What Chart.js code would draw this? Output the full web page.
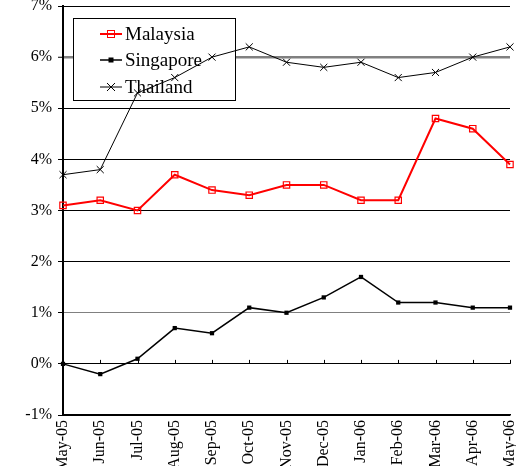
<!DOCTYPE html>
<html>
<head>
<meta charset="utf-8">
<script src="https://cdn.jsdelivr.net/npm/chart.js@4.4.0/dist/chart.umd.min.js"></script>
<style>
  html, body { margin: 0; padding: 0; background: #fff; }
  #wrap { width: 516px; height: 466px; }
</style>
</head>
<body>
<div id="wrap"><canvas id="chart" width="516" height="466"></canvas></div>
<script>
const months = ['May-05', 'Jun-05', 'Jul-05', 'Aug-05', 'Sep-05', 'Oct-05', 'Nov-05', 'Dec-05', 'Jan-06', 'Feb-06', 'Mar-06', 'Apr-06', 'May-06'];
const malaysia = [3.1, 3.2, 3.0, 3.7, 3.4, 3.3, 3.5, 3.5, 3.2, 3.2, 4.8, 4.6, 3.9];
const singapore = [0.0, -0.2, 0.1, 0.7, 0.6, 1.1, 1.0, 1.3, 1.7, 1.2, 1.2, 1.1, 1.1];
const thailand = [3.7, 3.8, 5.3, 5.6, 6.0, 6.2, 5.9, 5.8, 5.9, 5.6, 5.7, 6.0, 6.2];

const serif = '"Liberation Serif", "DejaVu Serif", serif';

function noPad(scale) {
  scale.paddingTop = 0;
  scale.paddingBottom = 0;
  scale.paddingLeft = 0;
  scale.paddingRight = 0;
}

// legend box inside the plot (lines run over it), plus small ticks on the 0% line
const extras = {
  id: 'extras',
  beforeDatasetsDraw(chart) {
    const c = chart.ctx;
    const x = chart.scales.x, y = chart.scales.y;
    const y0 = y.getPixelForValue(0);
    c.save();
    c.strokeStyle = '#000';
    c.lineWidth = 1;
    months.forEach((m, i) => {
      const px = Math.round(x.getPixelForValue(i)) + 0.5;
      c.beginPath(); c.moveTo(px, y0 - 4); c.lineTo(px, y0); c.stroke();
    });

    const bx = 73.5, by = 18.5, bw = 162, bh = 82;
    c.fillStyle = '#fff';
    c.fillRect(bx, by, bw, bh);
    c.strokeStyle = '#000';
    c.strokeRect(bx, by, bw, bh);
    const items = chart.data.datasets;
    const rows = [34, 60, 87];
    c.font = '19px ' + serif;
    c.textBaseline = 'middle';
    items.forEach((ds, i) => {
      const ly = rows[i];
      c.strokeStyle = ds.borderColor;
      c.lineWidth = ds.borderWidth;
      c.beginPath(); c.moveTo(100, ly); c.lineTo(122, ly); c.stroke();
      const mx = 111;
      if (i === 0) {
        c.lineWidth = 1;
        c.strokeRect(mx - 3.5, ly - 3.5, 7, 7);
      } else if (i === 1) {
        c.fillStyle = '#000';
        c.fillRect(mx - 2.5, ly - 2.5, 5, 5);
      } else {
        c.lineWidth = 1;
        c.beginPath();
        c.moveTo(mx - 4, ly - 4); c.lineTo(mx + 4, ly + 4);
        c.moveTo(mx + 4, ly - 4); c.lineTo(mx - 4, ly + 4);
        c.stroke();
      }
      c.fillStyle = '#000';
      c.fillText(ds.label, 125, ly + 1);
    });
    c.restore();
  }
};

new Chart(document.getElementById('chart'), {
  type: 'line',
  data: {
    labels: months,
    datasets: [
      {
        label: 'Malaysia',
        data: malaysia,
        borderColor: '#ff0000',
        backgroundColor: 'rgba(0,0,0,0)',
        borderWidth: 2,
        pointStyle: 'rect',
        pointRadius: 4.5,
        pointBorderWidth: 1.2,
        pointBorderColor: '#ff0000',
        pointBackgroundColor: 'rgba(0,0,0,0)',
        tension: 0
      },
      {
        label: 'Singapore',
        data: singapore,
        borderColor: '#000',
        backgroundColor: '#000',
        borderWidth: 1.5,
        pointStyle: 'rect',
        pointRadius: 3,
        pointBorderWidth: 0,
        pointBackgroundColor: '#000',
        tension: 0
      },
      {
        label: 'Thailand',
        data: thailand,
        borderColor: '#000',
        backgroundColor: '#000',
        borderWidth: 1,
        pointStyle: 'crossRot',
        pointRadius: 5,
        pointBorderWidth: 1,
        pointBorderColor: '#000',
        tension: 0
      }
    ]
  },
  options: {
    responsive: false,
    animation: false,
    layout: { padding: { top: 6, right: 6, left: 0, bottom: 0 } },
    plugins: {
      legend: { display: false },
      tooltip: { enabled: false }
    },
    scales: {
      x: {
        offset: false,
        grid: { display: false, drawTicks: false },
        border: { display: true, color: '#000', width: 1.5 },
        ticks: {
          minRotation: 90,
          maxRotation: 90,
          autoSkip: false,
          padding: 5,
          color: '#000',
          font: { family: serif, size: 16 }
        },
        afterFit(scale) { scale.height = 51; noPad(scale); }
      },
      y: {
        min: -1,
        max: 7,
        grid: {
          color: (ctx) => (ctx.tick && (ctx.tick.value === 6 || ctx.tick.value === 1)) ? '#808080' : '#000',
          lineWidth: (ctx) => (ctx.tick && ctx.tick.value === 6) ? 2.5 : 1,
          tickLength: 5,
          tickColor: '#000',
          tickWidth: 1
        },
        border: { display: true, color: '#000', width: 2 },
        ticks: {
          stepSize: 1,
          padding: 6,
          color: '#000',
          font: { family: serif, size: 16 },
          callback: (v) => v + '%'
        },
        afterFit(scale) { scale.width = 63; noPad(scale); }
      }
    }
  },
  plugins: [extras]
});
</script>
</body>
</html>
